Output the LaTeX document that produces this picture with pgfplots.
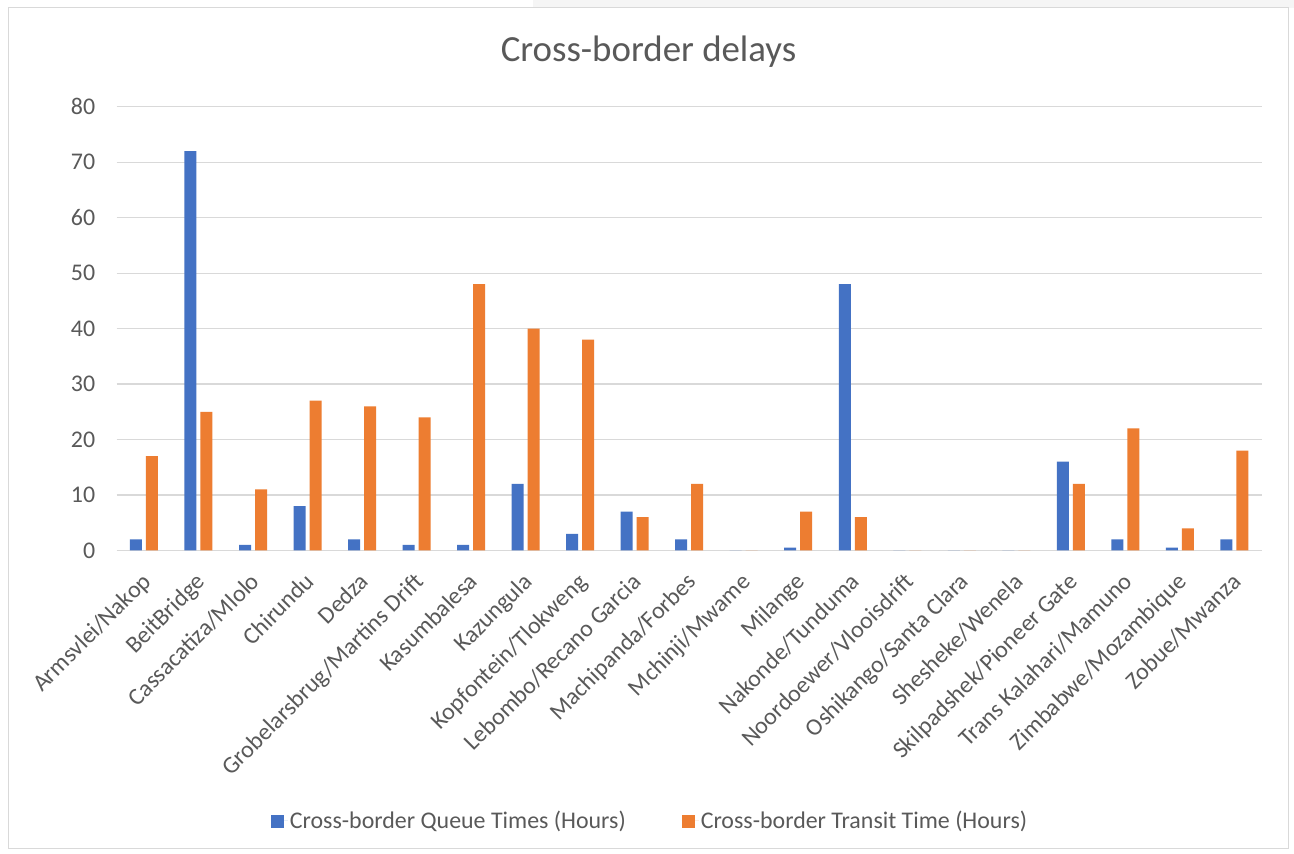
\documentclass[border=0pt]{standalone}
\usepackage{fontspec}
\setmainfont{Carlito}
\usepackage{pgfplots}
\pgfplotsset{compat=1.18}
\definecolor{qblue}{HTML}{4472C4}
\definecolor{torange}{HTML}{ED7D31}
\definecolor{txt}{HTML}{595959}
\definecolor{grd}{HTML}{D9D9D9}
\begin{document}
\begin{tikzpicture}[x=1bp,y=1bp]
\path[use as bounding box] (0,0) rectangle (1294,854);
\fill[white] (0,0) rectangle (1294,854);
\fill[black!4] (533,846) rectangle (1294,854);
\draw[grd, line width=1bp] (8,5) rectangle (1288,846);
\node[text=txt, font=\fontsize{37}{44}\selectfont] at (648.5,802) {Cross-border delays};
\begin{axis}[
  at={(116.7bp,303.5bp)}, anchor=south west,
  scale only axis, width=1145bp, height=443.8bp,
  ybar=4bp, bar width=12bp,
  xmin=-0.5, xmax=20.5, ymin=0, ymax=80,
  ytick={0,10,...,80},
  xtick={0,...,20},
  xticklabels={Armsvlei/Nakop,BeitBridge,Cassacatiza/Mlolo,Chirundu,Dedza,Grobelarsbrug/Martins Drift,Kasumbalesa,Kazungula,Kopfontein/Tlokweng,Lebombo/Recano Garcia,Machipanda/Forbes,Mchinji/Mwame,Milange,Nakonde/Tunduma,Noordoewer/Vlooisdrift,Oshikango/Santa Clara,Shesheke/Wenela,Skilpadshek/Pioneer Gate,Trans Kalahari/Mamuno,Zimbabwe/Mozambique,Zobue/Mwanza},
  axis line style={draw=none},
  major tick length=0pt,
  ymajorgrids, grid style={grd, line width=1.2bp},
  /pgf/number format/assume math mode=true,
  tick label style={text=txt, font=\fontsize{24}{28}\selectfont},
  y tick label style={xshift=-18bp},
  x tick label style={rotate=45, anchor=north east, inner sep=0pt, xshift=-17.3bp, yshift=-11.9bp},
  legend style={at={(0.4658,-0.6095)}, anchor=center, draw=none, fill=none,
    legend columns=2, text=txt, font=\fontsize{24}{28}\selectfont,
    /tikz/every even column/.append style={column sep=54bp},
    inner sep=0pt},
  legend image code/.code={\fill[#1] (0bp,-7bp) rectangle (13bp,6bp); \path (0bp,0bp) -- (17bp,0bp);},
]
\addplot[fill=qblue, draw=none] coordinates {(0,2) (1,72) (2,1) (3,8) (4,2) (5,1) (6,1) (7,12) (8,3) (9,7) (10,2) (11,0) (12,0.5) (13,48) (14,0) (15,0) (16,0) (17,16) (18,2) (19,0.5) (20,2)};
\addplot[fill=torange, draw=none] coordinates {(0,17) (1,25) (2,11) (3,27) (4,26) (5,24) (6,48) (7,40) (8,38) (9,6) (10,12) (11,0) (12,7) (13,6) (14,0) (15,0) (16,0) (17,12) (18,22) (19,4) (20,18)};
\legend{Cross-border Queue Times (Hours),Cross-border Transit Time (Hours)}
\end{axis}
\end{tikzpicture}
\end{document}
